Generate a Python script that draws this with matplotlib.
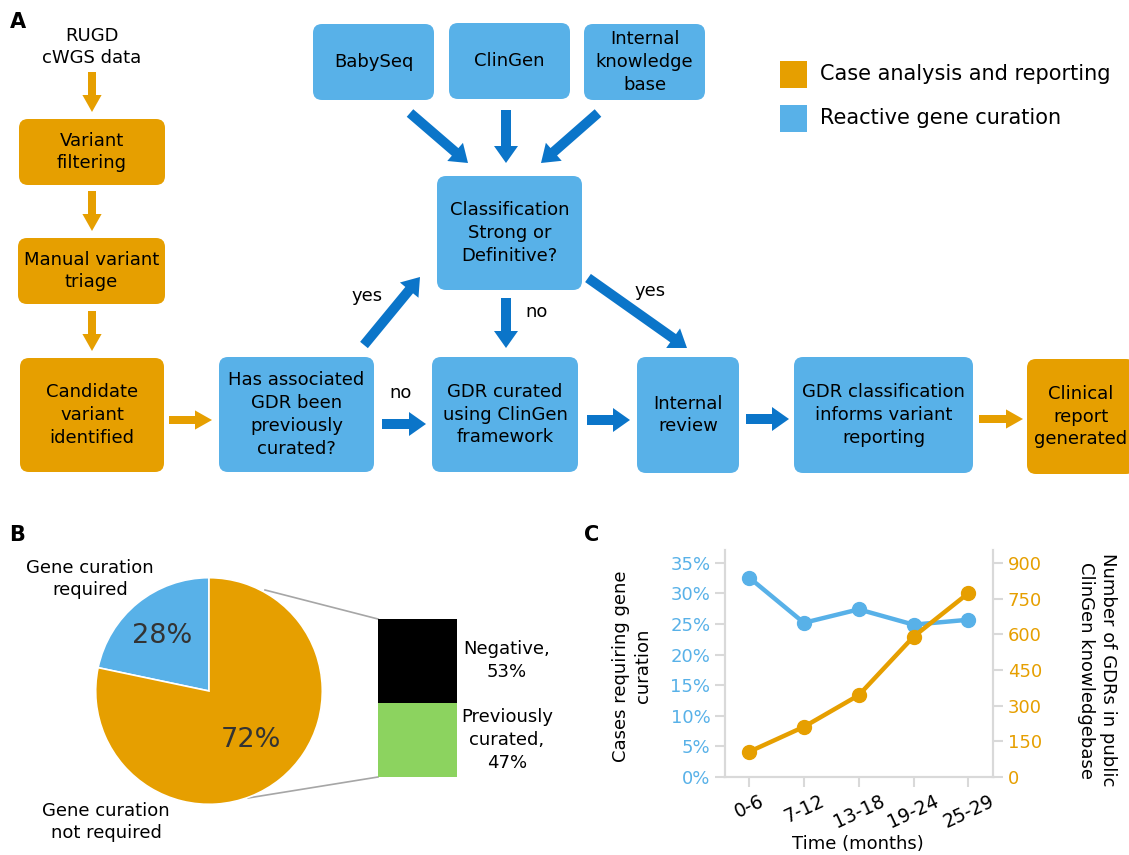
import numpy as np
import matplotlib
matplotlib.use('Agg')
import matplotlib.pyplot as plt
from matplotlib.patches import FancyBboxPatch, Rectangle

plt.rcParams['font.family'] = ['DejaVu Sans']

ORANGE = '#E69F00'
BLUE = '#58B1E8'
ARROW_BLUE = '#0B75C9'
GREEN = '#8CD35F'
GRAY = '#D9D9D9'
LS = 1.34  # line spacing of multi-line labels

# ---- panel C data ----
months = ['0-6', '7-12', '13-18', '19-24', '25-29']
cases_pct = [32.6, 25.2, 27.4, 24.9, 25.7]
gdr_count = [106, 211, 344, 590, 773]
pct_ticks = [0, 5, 10, 15, 20, 25, 30, 35]
count_ticks = [0, 150, 300, 450, 600, 750, 900]

# ---- panel B data ----
pie_labels = ['28%', '72%']
pie_wedges = [21.7, 78.3]          # wedge sizes as drawn in the figure
pie_names = ['Gene curation\nrequired', 'Gene curation\nnot required']
bar_names = ['Previously\ncurated,\n47%', 'Negative,\n53%']
bar_values = [47, 53]
bar_colors = [GREEN, 'black']

# ---- panel A flowchart (text, x0, y0, x1, y1, color) ----
boxes = [
    ('Variant\nfiltering', 19, 119, 165, 185, ORANGE),
    ('Manual variant\ntriage', 18, 238, 165, 304, ORANGE),
    ('Candidate\nvariant\nidentified', 20, 358, 164, 472, ORANGE),
    ('Has associated\nGDR been\npreviously\ncurated?', 219, 357, 374, 472, BLUE),
    ('BabySeq', 313, 24, 434, 100, BLUE),
    ('ClinGen', 449, 23, 570, 99, BLUE),
    ('Internal\nknowledge\nbase', 584, 24, 705, 100, BLUE),
    ('Classification\nStrong or\nDefinitive?', 437, 176, 582, 290, BLUE),
    ('GDR curated\nusing ClinGen\nframework', 432, 357, 578, 472, BLUE),
    ('Internal\nreview', 637, 357, 739, 473, BLUE),
    ('GDR classification\ninforms variant\nreporting', 794, 357, 973, 473, BLUE),
    ('Clinical\nreport\ngenerated', 1027, 359, 1135, 474, ORANGE),
]

# arrows: (x_start, y_start, x_end, y_end, color)
arrows = [
    (92, 72, 92, 112, ORANGE),
    (92, 191, 92, 231, ORANGE),
    (92, 311, 92, 351, ORANGE),
    (169, 420, 212, 420, ORANGE),
    (979, 419, 1023, 419, ORANGE),
    (410, 113, 468, 163, ARROW_BLUE),
    (506, 110, 506, 163, ARROW_BLUE),
    (598, 113, 541, 163, ARROW_BLUE),
    (364, 345, 420, 277, ARROW_BLUE),
    (506, 298, 506, 348, ARROW_BLUE),
    (588, 278, 687, 348, ARROW_BLUE),
    (382, 424, 426, 424, ARROW_BLUE),
    (587, 420, 630, 420, ARROW_BLUE),
    (746, 419, 789, 419, ARROW_BLUE),
]

edge_labels = [('yes', 367, 296), ('no', 537, 312), ('yes', 650, 291), ('no', 401, 393)]
legend_items = [('Case analysis and reporting', ORANGE), ('Reactive gene curation', BLUE)]

fig = plt.figure(figsize=(11.29, 8.55), dpi=100)

# full-figure canvas in pixel units
canvas = fig.add_axes([0, 0, 1, 1])
canvas.set_xlim(0, 1129)
canvas.set_ylim(855, 0)
canvas.axis('off')

for text, x0, y0, x1, y1, col in boxes:
    canvas.add_patch(FancyBboxPatch((x0, y0), x1 - x0, y1 - y0,
                                    boxstyle='round,pad=0,rounding_size=9',
                                    fc=col, ec='none'))
    canvas.text((x0 + x1) / 2, (y0 + y1) / 2, text, ha='center', va='center',
                fontsize=13, linespacing=LS)

for xs, ys, xe, ye, col in arrows:
    w = 8 if col == ORANGE else 10
    canvas.arrow(xs, ys, xe - xs, ye - ys, width=w, head_width=w * 2.4,
                 head_length=17, length_includes_head=True, fc=col, ec='none')

for text, x, y in edge_labels:
    canvas.text(x, y, text, ha='center', va='center', fontsize=13)

canvas.text(92, 47, 'RUGD\ncWGS data', ha='center', va='center', fontsize=13,
            linespacing=LS)

for i, (name, col) in enumerate(legend_items):
    y = 61 + i * 44
    canvas.add_patch(Rectangle((780, y), 27, 27, fc=col, ec='none'))
    canvas.text(820, y + 13.5, name, ha='left', va='center', fontsize=15)

for letter, x, y in [('A', 18, 22), ('B', 17, 535), ('C', 592, 535)]:
    canvas.text(x, y, letter, ha='center', va='center', fontsize=15,
                fontweight='bold')

# ---- panel B: pie + stacked bar ----
cx, cy, r = 209, 691, 113.3
pie_ax = fig.add_axes([(cx - r) / 1129, 1 - (cy + r) / 855, 2 * r / 1129, 2 * r / 855])
pie_ax.pie(pie_wedges, colors=[BLUE, ORANGE], startangle=90, counterclock=True,
           wedgeprops=dict(edgecolor='white', linewidth=1.2))
pie_ax.set_xlim(-1, 1)
pie_ax.set_ylim(-1, 1)
for lab, (px, py) in zip(pie_labels, [(-0.41, 0.485), (0.374, -0.43)]):
    pie_ax.text(px, py, lab, ha='center', va='center', fontsize=19.5, color='#333333')

canvas.text(90, 579, pie_names[0], ha='center', va='center', fontsize=13, linespacing=LS)
canvas.text(106, 822, pie_names[1], ha='center', va='center', fontsize=13, linespacing=LS)

# zoom connector lines from the pie to the bar
canvas.plot([265, 378], [590, 619], color='#A6A6A6', lw=1.2)
canvas.plot([248, 378], [798, 777], color='#A6A6A6', lw=1.2)

bar_ax = fig.add_axes([378 / 1129, 1 - 777 / 855, 79 / 1129, 158 / 855])
bottom = 0
for name, v, col in zip(bar_names, bar_values, bar_colors):
    bar_ax.bar(0, v, bottom=bottom, width=1, color=col)
    bar_ax.text(1.13, bottom + v / 2, name, ha='center', va='center', fontsize=13,
                linespacing=LS, clip_on=False)
    bottom += v
bar_ax.set_xlim(-0.5, 0.5)
bar_ax.set_ylim(0, 100)
bar_ax.axis('off')

# ---- panel C: dual-axis line chart ----
ax = fig.add_axes([725 / 1129, 1 - 777 / 855, 268 / 1129, 227 / 855])
x = np.arange(len(months))
ax.plot(x, cases_pct, color=BLUE, lw=3.2, marker='o', ms=10)
ax.set_xlim(-0.44, 4.45)
ax.set_ylim(0, 37.1)
ax.set_yticks(pct_ticks)
ax.set_yticklabels([f'{v}%' for v in pct_ticks])
ax.set_xticks(x)
ax.set_xticklabels(months, rotation=25, fontsize=13.5)
ax.tick_params(axis='y', colors=GRAY, labelcolor=BLUE, length=7, width=1.5, labelsize=13)
ax.tick_params(axis='x', colors=GRAY, labelcolor='black', length=7, width=1.5)

ax2 = ax.twinx()
ax2.plot(x, gdr_count, color=ORANGE, lw=3.2, marker='o', ms=10)
ax2.set_ylim(0, 954.6)
ax2.set_yticks(count_ticks)
ax2.tick_params(axis='y', colors=GRAY, labelcolor=ORANGE, length=7, width=1.5, labelsize=13)

for a in (ax, ax2):
    a.spines['top'].set_visible(False)
    for s in ('left', 'right', 'bottom'):
        a.spines[s].set_color(GRAY)
        a.spines[s].set_linewidth(1.5)
    a.patch.set_alpha(0)

canvas.text(632, 666, 'Cases requiring gene\ncuration', rotation=90, ha='center',
            va='center', fontsize=13, linespacing=1.25)
canvas.text(1097, 670, 'Number of GDRs in public\nClinGen knowledgebase', rotation=-90,
            ha='center', va='center', fontsize=13, linespacing=1.25)
canvas.text(858, 844, 'Time (months)', ha='center', va='center', fontsize=13)

fig.savefig('out.png', dpi=100)
